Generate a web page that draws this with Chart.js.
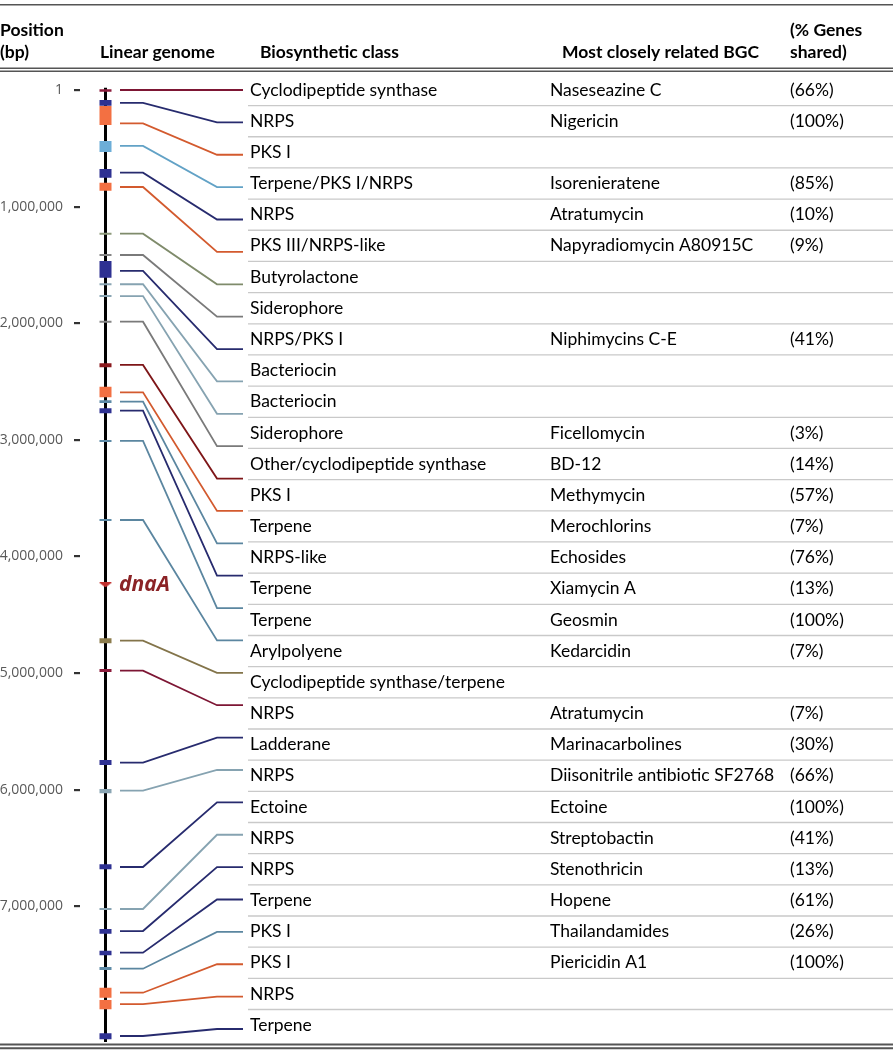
<!DOCTYPE html>
<html>
<head>
<meta charset="utf-8">
<script src="https://cdn.jsdelivr.net/npm/chart.js@4.4.1/dist/chart.umd.min.js"></script>
<style>
html,body{margin:0;padding:0;background:#fff;}
canvas{display:block;}
</style>
</head>
<body>
<canvas id="c" width="893" height="1050"></canvas>
<script>
// ---------------- DATA ----------------
const classNames = [
  'Cyclodipeptide synthase','NRPS','PKS I','Terpene/PKS I/NRPS','NRPS','PKS III/NRPS-like',
  'Butyrolactone','Siderophore','NRPS/PKS I','Bacteriocin','Bacteriocin','Siderophore',
  'Other/cyclodipeptide synthase','PKS I','Terpene','NRPS-like','Terpene','Terpene',
  'Arylpolyene','Cyclodipeptide synthase/terpene','NRPS','Ladderane','NRPS','Ectoine',
  'NRPS','NRPS','Terpene','PKS I','PKS I','NRPS','Terpene'
];
const relatedBGC = [
  'Naseseazine C','Nigericin','','Isorenieratene','Atratumycin','Napyradiomycin A80915C',
  '','','Niphimycins C-E','','','Ficellomycin',
  'BD-12','Methymycin','Merochlorins','Echosides','Xiamycin A','Geosmin',
  'Kedarcidin','','Atratumycin','Marinacarbolines','Diisonitrile antibiotic SF2768','Ectoine',
  'Streptobactin','Stenothricin','Hopene','Thailandamides','Piericidin A1','',''
];
const genesShared = [
  '(66%)','(100%)','','(85%)','(10%)','(9%)',
  '','','(41%)','','','(3%)',
  '(14%)','(57%)','(7%)','(76%)','(13%)','(100%)',
  '(7%)','','(7%)','(30%)','(66%)','(100%)',
  '(41%)','(13%)','(61%)','(26%)','(100%)','',''
];
// genome features (bp): start, end, link position, type
const featureStart = [-6000,86000,137000,437000,678000,795000,1224000,1407000,1467000,1658000,1758000,1979000,
  2344000,2545000,2661000,2730000,3002000,3679000,4702000,4966000,5746000,5995000,6641000,7015000,
  7196000,7382000,7521000,7699000,7804000,8090000];
const featureEnd   = [15000,135000,300000,532000,752000,864000,1241000,1424000,1610000,1675000,1775000,1996000,
  2378000,2636000,2684000,2773000,3019000,3696000,4745000,4991000,5789000,6032000,6683000,7033000,
  7236000,7421000,7547000,7785000,7884000,8141000];
const featureLink  = [0,111000,286000,480000,709000,832000,1232000,1415000,1552000,1666000,1767000,1987000,
  2358000,2593000,2673000,2750000,3010000,3688000,4723000,4980000,5769000,6009000,6664000,7024000,
  7213000,7399000,7536000,7742000,7839000,8113000];
const featureType  = ['cdps','nrps','pks','terp','nrps','pks','olive','grey','nrps','steelL','steelL','grey',
  'darkred','pks','steel','nrps','steel','steel','brown','cdps','nrps','steelL','nrps','steelL',
  'nrps','nrps','steel','pks','pks','nrps'];
const positionTicks = [1,1000000,2000000,3000000,4000000,5000000,6000000,7000000];
const genomeLength = 8165000;
const dnaAPos = 4245000;

// ---------------- STYLE ----------------
const palette = {
  cdps:   {block:'#8C1C3C', line:'#7D1634'},
  nrps:   {block:'#2E3192', line:'#272B6E'},
  pks:    {block:'#F37042', line:'#D35A2E'},
  terp:   {block:'#6CAED8', line:'#62A2C6'},
  olive:  {block:'#8D9A7B', line:'#7F8B6B'},
  grey:   {block:'#858585', line:'#7A7A7A'},
  steelL: {block:'#8AA5B3', line:'#86A3B1'},
  steel:  {block:'#5E8BA7', line:'#5B86A0'},
  darkred:{block:'#8B1A1E', line:'#7E1618'},
  brown:  {block:'#8C7C4C', line:'#83744A'}
};
const FONT = 'Lato';
const GX = 105.5;            // genome backbone x
const LX = [120,143,217,243]; // link polyline x
const COLX = {cls:250, bgc:550, pct:790};

// dnaA marker image
const tri = document.createElement('canvas');
tri.width = 13; tri.height = 5;
(function(){const t=tri.getContext('2d');t.fillStyle='#C0302E';t.beginPath();t.moveTo(0,0);t.lineTo(13,0);t.lineTo(6.5,5);t.closePath();t.fill();})();

const datasets = [];
// markers
featureStart.forEach((s,i)=>{
  datasets.push({type:'line', yAxisID:'yg', order:0,
    data:[{x:GX,y:s},{x:GX,y:featureEnd[i]}],
    borderColor:palette[featureType[i]].block, borderWidth:12, borderCapStyle:'butt',
    pointRadius:0, fill:false});
});
// links
const linkSets = featureLink.map((p,i)=>{
  const ds = {type:'line', yAxisID:'yg', order:5,
    data:[{x:LX[0],y:p},{x:LX[1],y:p},{x:LX[2],y:p},{x:LX[3],y:p}],
    borderColor:palette[featureType[i]].line, borderWidth:1.8, pointRadius:0, fill:false,
    borderJoinStyle:'miter', tension:0};
  datasets.push(ds);
  return ds;
});
// dnaA
datasets.push({type:'scatter', yAxisID:'yg', order:0, data:[{x:GX,y:dnaAPos}], pointStyle:tri, pointRadius:6});
// backbone
datasets.push({type:'line', yAxisID:'yg', order:10, data:[{x:GX,y:-20000},{x:GX,y:genomeLength}],
  borderColor:'#000', borderWidth:3, borderCapStyle:'butt', pointRadius:0});

const tablePlugin = {
  id:'table',
  beforeDraw(chart){
    const ctx=chart.ctx; ctx.save(); ctx.fillStyle='#fff'; ctx.fillRect(0,0,chart.width,chart.height); ctx.restore();
  },
  afterDraw(chart){
    const ctx=chart.ctx, xs=chart.scales.x, yr=chart.scales.yr;
    const X=v=>xs.getPixelForValue(v);
    ctx.save();
    // separators
    ctx.strokeStyle='#C9C9C9'; ctx.lineWidth=1.3;
    for(let i=0;i<classNames.length-1;i++){
      const y=yr.getPixelForValue(i+0.5);
      ctx.beginPath(); ctx.moveTo(X(248),y); ctx.lineTo(X(893),y); ctx.stroke();
    }
    // rules
    ctx.strokeStyle='#555'; 
    const hl=(y,w)=>{ctx.lineWidth=w;ctx.beginPath();ctx.moveTo(0,y);ctx.lineTo(chart.width,y);ctx.stroke();};
    hl(4.7,1.6); hl(68.2,1.5); hl(71.3,1.5); hl(1044.5,2); hl(1048.2,2);
    // header
    ctx.fillStyle='#000'; ctx.textBaseline='middle'; ctx.textAlign='left';
    ctx.font='bold 17.5px '+FONT;
    ctx.fillText('Position',X(0),30); ctx.fillText('(bp)',X(0),52);
    ctx.fillText('Linear genome',X(100),52);
    ctx.fillText('Biosynthetic class',X(260),52);
    ctx.fillText('Most closely related BGC',X(562),52);
    ctx.fillText('(% Genes',X(790),30); ctx.fillText('shared)',X(790),52);
    // rows
    ctx.font='17.5px '+FONT;
    classNames.forEach((c,i)=>{
      const y=yr.getPixelForValue(i);
      ctx.fillText(c,X(COLX.cls),y);
      if(relatedBGC[i]) ctx.fillText(relatedBGC[i],X(COLX.bgc),y);
      if(genesShared[i]) ctx.fillText(genesShared[i],X(COLX.pct),y);
    });
    // dnaA label
    const yg=chart.scales.yg;
    ctx.fillStyle='#8B2326'; ctx.font='italic bold 21px "Open Sans"';
    ctx.fillText('dnaA',X(119),yg.getPixelForValue(dnaAPos));
    ctx.restore();
  }
};

const chart = new Chart(document.getElementById('c'), {
  type:'scatter',
  data:{datasets},
  options:{
    responsive:false, animation:false, devicePixelRatio:1, events:[],
    layout:{padding:0, autoPadding:false},
    plugins:{legend:{display:false}, tooltip:{enabled:false}},
    scales:{
      x:{type:'linear', min:80, max:893, display:false},
      yg:{type:'linear', position:'left', reverse:true, min:-771870, max:8233276,
        afterFit:s=>{s.width=80; s.paddingTop=0; s.paddingBottom=0;},
        afterBuildTicks:s=>{s.ticks=positionTicks.map(v=>({value:v}));},
        border:{display:false},
        grid:{drawOnChartArea:false, drawTicks:true, tickLength:6, tickColor:'#333', lineWidth:2.2},
        ticks:{autoSkip:false, padding:11, color:'#595959', font:{family:'Open Sans', size:14},
          callback:v=>Number(v).toLocaleString('en-US')}
      },
      yr:{type:'linear', display:false, reverse:true, min:-90/31.17, max:-90/31.17+1050/31.17},
      yl:{type:'linear', display:false, reverse:true, min:-90/32.38, max:-90/32.38+1050/32.38}
    }
  },
  plugins:[tablePlugin]
});

// link endpoints: evenly spaced slots on the link scale, mapped into genome units
const yg=chart.scales.yg, yl=chart.scales.yl;
linkSets.forEach((ds,i)=>{
  const v=yg.getValueForPixel(yl.getPixelForValue(i));
  ds.data[2].y=v; ds.data[3].y=v;
});
chart.update('none');
</script>
</body>
</html>
